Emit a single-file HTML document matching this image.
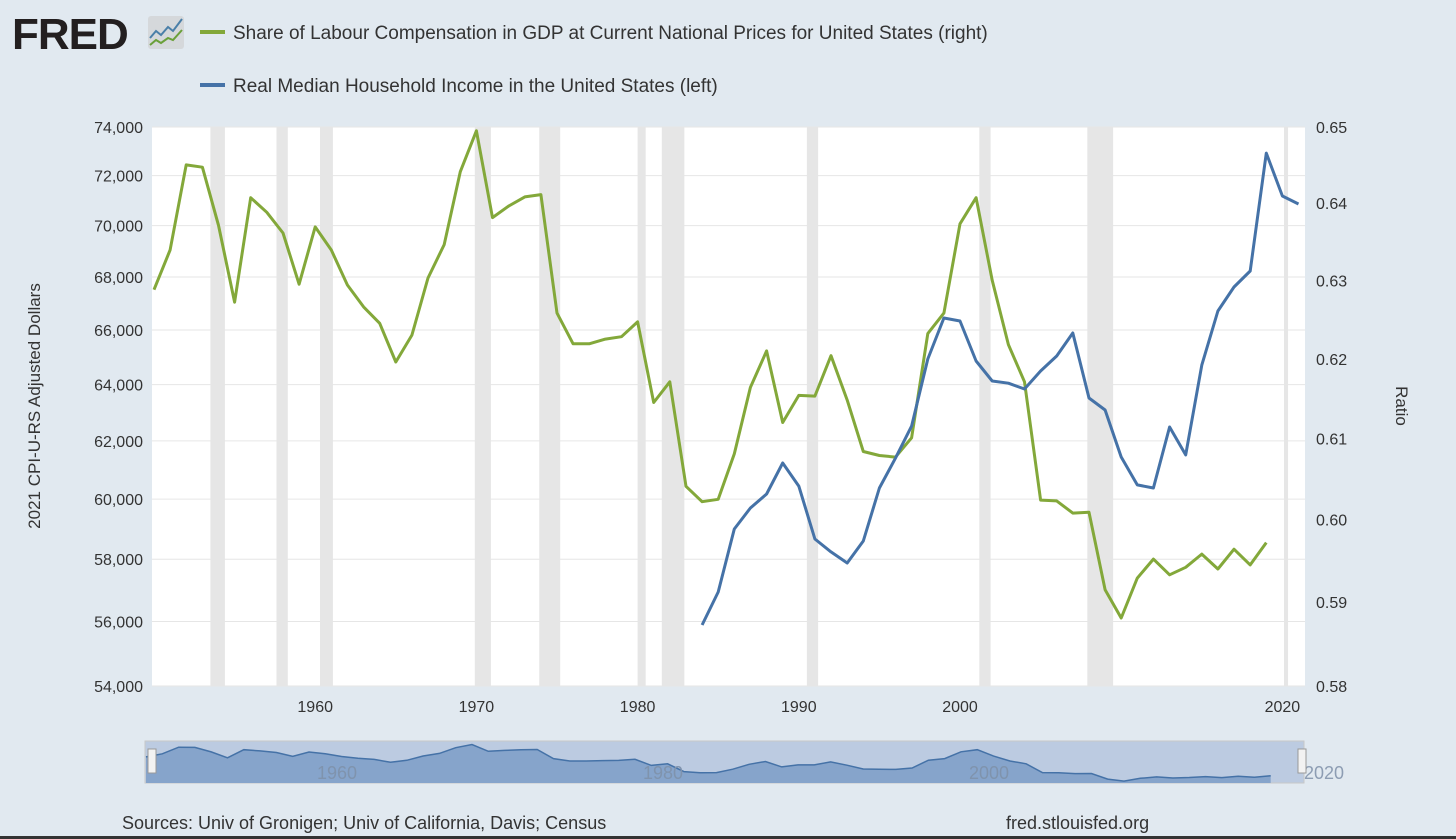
<!DOCTYPE html>
<html><head><meta charset="utf-8"><style>
body{margin:0;background:#e1e9f0;font-family:"Liberation Sans",sans-serif;}
#wrap{position:relative;width:1456px;height:839px;overflow:hidden;background:#e1e9f0;}
svg text{font-family:"Liberation Sans",sans-serif;}
</style></head><body>
<div id="wrap">
<svg id="chart" width="1456" height="839"></svg>
</div>
<script>
const greenYears=[1950,1951,1952,1953,1954,1955,1956,1957,1958,1959,1960,1961,1962,1963,1964,1965,1966,1967,1968,1969,1970,1971,1972,1973,1974,1975,1976,1977,1978,1979,1980,1981,1982,1983,1984,1985,1986,1987,1988,1989,1990,1991,1992,1993,1994,1995,1996,1997,1998,1999,2000,2001,2002,2003,2004,2005,2006,2007,2008,2009,2010,2011,2012,2013,2014,2015,2016,2017,2018,2019];
const laborShare=[0.6288,0.6339,0.6450,0.6447,0.6371,0.6272,0.6407,0.6388,0.6361,0.6295,0.6369,0.6339,0.6294,0.6266,0.6245,0.6196,0.6230,0.6303,0.6346,0.6441,0.6495,0.6381,0.6396,0.6408,0.6411,0.6258,0.6219,0.6219,0.6225,0.6228,0.6247,0.6145,0.6171,0.6041,0.6022,0.6025,0.6081,0.6164,0.6210,0.6120,0.6154,0.6153,0.6204,0.6148,0.6084,0.6079,0.6077,0.6101,0.6232,0.6258,0.6373,0.6407,0.6300,0.6218,0.6171,0.6024,0.6023,0.6008,0.6009,0.5915,0.5881,0.5929,0.5952,0.5933,0.5942,0.5958,0.5940,0.5964,0.5945,0.5972];
const blueYears=[1984,1985,1986,1987,1988,1989,1990,1991,1992,1993,1994,1995,1996,1997,1998,1999,2000,2001,2002,2003,2004,2005,2006,2007,2008,2009,2010,2011,2012,2013,2014,2015,2016,2017,2018,2019,2020,2021];
const medianIncome=[55889,56939,58996,59698,60171,61232,60440,58664,58239,57877,58600,60377,61403,62521,64929,66447,66336,64855,64129,64050,63840,64492,65038,65886,63518,63090,61439,60480,60377,62488,61511,64707,66711,67619,68231,72921,71177,70857];
const leftTicks=[54000,56000,58000,60000,62000,64000,66000,68000,70000,72000,74000];
const rightTicks=[0.58,0.59,0.60,0.61,0.62,0.63,0.64,0.65];
const xTicks=[1960,1970,1980,1990,2000,2020];
const recStart=[1953.5,1957.6,1960.3,1969.9,1973.9,1980.0,1981.5,1990.5,2001.2,2007.9,2020.1];
const recEnd=[1954.4,1958.3,1961.1,1970.9,1975.2,1980.5,1982.9,1991.2,2001.9,2009.5,2020.35];

const NS="http://www.w3.org/2000/svg";
const svg=document.getElementById('chart');
const PL=152,PR=1305,PT=127,PB=686;
const x=y=>154+(y-1950)*16.12;
const yL=v=>PB-(Math.log(v/54000)/Math.log(74000/54000))*(PB-PT);
const yR=v=>PB-(Math.log(v/0.58)/Math.log(0.65/0.58))*(PB-PT);
function el(t,a,p){const e=document.createElementNS(NS,t);for(const k in a)e.setAttribute(k,a[k]);(p||svg).appendChild(e);return e;}

const plot=el('rect',{x:PL,y:PT,width:PR-PL,height:PB-PT,fill:'#fff'});


for(let i=0;i<recStart.length;i++){
  const r=el('rect',{x:x(recStart[i]),y:PT,width:x(recEnd[i])-x(recStart[i]),height:PB-PT,fill:'#e6e6e6'});
  
  
}
leftTicks.forEach(v=>{
  const g=el('line',{x1:PL,x2:PR,y1:yL(v),y2:yL(v),stroke:'#e6e6e6','stroke-width':1});
  
  
  const t=el('text',{x:143,y:yL(v)+6,'text-anchor':'end','font-size':16,fill:'#333'});t.textContent=v.toLocaleString('en-US');
  
  
});
rightTicks.forEach(v=>{
  const t=el('text',{x:1316,y:yR(v)+6,'font-size':16,fill:'#333'});t.textContent=v.toFixed(2);
  
  
});
xTicks.forEach(v=>{
  const t=el('text',{x:x(v),y:712,'text-anchor':'middle','font-size':16,fill:'#333'});t.textContent=v;
  
  
});
let t=el('text',{transform:'translate(40,406) rotate(-90)','text-anchor':'middle','font-size':17,fill:'#333'});t.textContent='2021 CPI-U-RS Adjusted Dollars';


t=el('text',{transform:'translate(1396,406) rotate(90)','text-anchor':'middle','font-size':17,fill:'#333'});t.textContent='Ratio';



let d=greenYears.map((yr,i)=>(i?'L':'M')+x(yr).toFixed(1)+','+yR(laborShare[i]).toFixed(1)).join('');
const gl=el('path',{d:d,fill:'none',stroke:'#83a83a','stroke-width':3,'stroke-linejoin':'round'});


d=blueYears.map((yr,i)=>(i?'L':'M')+x(yr).toFixed(1)+','+yL(medianIncome[i]).toFixed(1)).join('');
const bl=el('path',{d:d,fill:'none',stroke:'#4572a7','stroke-width':3,'stroke-linejoin':'round'});



// legend
let lg=el('line',{x1:200,x2:225,y1:32,y2:32,stroke:'#83a83a','stroke-width':4});


t=el('text',{x:233,y:39,'font-size':19,fill:'#333'});t.textContent='Share of Labour Compensation in GDP at Current National Prices for United States (right)';


lg=el('line',{x1:200,x2:225,y1:85,y2:85,stroke:'#4572a7','stroke-width':4});


t=el('text',{x:233,y:92,'font-size':19,fill:'#333'});t.textContent='Real Median Household Income in the United States (left)';



// logo
t=el('text',{x:12,y:49,'font-size':44,'font-weight':'bold',fill:'#231f20','letter-spacing':'-1'});t.textContent='FRED';


const ic=el('rect',{x:148,y:16,width:36,height:33,rx:3,fill:'#d5d8db'});


el('polyline',{points:'150,38 156,31 161,35 168,27 173,31 182,19',fill:'none',stroke:'#4a7fa8','stroke-width':2});
el('polyline',{points:'150,45 156,40 161,43 168,38 173,40 182,30',fill:'none',stroke:'#6aa03a','stroke-width':2});

// navigator
const nb=el('rect',{x:145,y:741,width:1159,height:42,fill:'#bccbe1',stroke:'#c8c8c8'});


const nx=yr=>146+(yr-1950)*16.3;
const ny=v=>783-(v-0.585)/(0.652-0.585)*40;
d='M'+nx(1950)+',783'+greenYears.map((yr,i)=>'L'+nx(yr).toFixed(1)+','+ny(laborShare[i]).toFixed(1)).join('')+'L'+nx(2019)+',783Z';
const na=el('path',{d:d,fill:'#86a4cb',stroke:'none'});


el('path',{d:greenYears.map((yr,i)=>(i?'L':'M')+nx(yr).toFixed(1)+','+ny(laborShare[i]).toFixed(1)).join(''),fill:'none',stroke:'#4572a7','stroke-width':1.5});
[1960,1980,2000].forEach(v=>{const tt=el('text',{x:nx(v)+28,y:779,'text-anchor':'middle','font-size':18,fill:'#7f93ad'});tt.textContent=v;

});
t=el('text',{x:1304,y:779,'font-size':18,fill:'#8d9db3'});t.textContent='2020';
[[152],[1302]].forEach(p=>{const h=el('rect',{x:p[0]-4,y:749,width:8,height:24,fill:'#f2f2f2',stroke:'#999'});

});

t=el('text',{x:122,y:829,'font-size':18,fill:'#333'});t.textContent='Sources: Univ of Gronigen; Univ of California, Davis; Census';


t=el('text',{x:1006,y:829,'font-size':18,fill:'#333'});t.textContent='fred.stlouisfed.org';


const bb=el('rect',{x:0,y:836,width:1456,height:3,fill:'#333'});


</script>
</body></html>
